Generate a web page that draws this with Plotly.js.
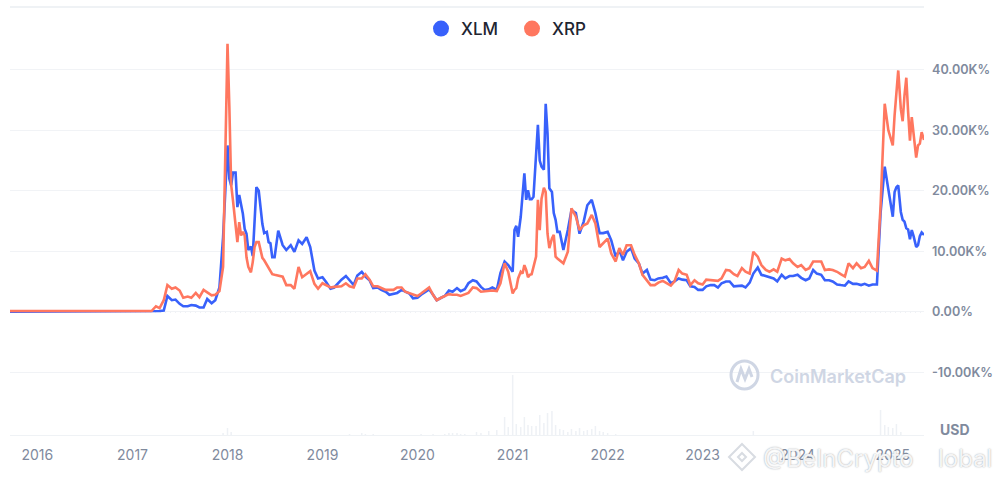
<!DOCTYPE html>
<html><head><meta charset="utf-8">
<script src="https://cdn.plot.ly/plotly-3.0.1.min.js"></script>
<style>html,body{margin:0;padding:0;background:#fff}#c{width:1002px;height:482px}</style>
</head><body><div id="c"></div>
<script>
// values in thousands of percent; half-monthly, weekly where the curve moves fast
const earlyDates = ['2015-09-18','2016-01-01','2016-07-01'];
const xlmEarly = [0,0,0];
const xrpEarly = [0.1,0.1,0.05];
const xlm2017 = [0.05,0,0,0,0,0,0.05,0.1,0.2,2.6,1.9,2,1.3,0.9,0.9,1.1,1,0.7,0.7,2.1,1.4,1.9,4,12.3];
const xrp2017 = [0.1,0.1,0.1,0.1,0.1,0.1,0.9,0.6,1.9,4.4,3.8,4,3.5,2.3,2.5,2.3,3.1,2.4,3.6,3.2,2.7,2.8,3.4,7.4];
const xlm2018a = [27.5,22,20.9,23,23,17.3,19.3,18,16.2,13.7,12.9,10.2,10.8,9.2,15.1,20.6,20,16.7,14.5,13,13.2,11.5,11.3,9];
const xrp2018a = [44.3,34,21,18.4,14,11.5,14.8,12.6,13.2,12.6,9,7.4,6.5,8.2,10.7,11.5,11.5,10,8.9,8.5,7.7,7.2,6.6,6.2];
const xlm2018b = [9,13.4,11,10.2,11,9.9,11.8,11.2,12.3,10.7,6.8,5.5];
const xrp2018b = [6.1,6,5.8,4.4,4.4,3.8,7.4,5.7,6.3,6.7,4.6,3.8];
const xlm2019 = [5.7,4.9,3.8,4,4.7,5.3,5.9,5.2,4.4,6,6.6,5.8,5.2,3.9,4,3.6,3.3,2.8,3,3.1,3.6,3.3,3,2.2];
const xrp2019 = [4.7,4.4,4,4.1,4.2,4.2,4.7,4.2,4,5.5,5.5,6.2,5.3,4.2,4.2,3.9,3.6,3.6,3.6,4,4,3.3,3.1,2.8];
const xlm2020 = [2.3,2.8,3.3,3.7,2.8,1.9,2.3,2.6,3.5,3.3,3.9,3.4,3.7,4.7,5.2,5,4.1,3.6,3.7,4,3.6,6.4,8.3,7.7];
const xrp2020 = [2.6,3,3.6,4,2.8,1.9,2.3,2.6,2.9,2.8,2.8,2.6,2.8,3.1,4,3.9,3.3,3.4,3.4,3.5,3.4,4.7,8,6.6];
const xlm2021a = [6.6,13.5,14.2,12.4,15.7,20.1,22.9,18.5,20.1,18.6,18.6,19,25,30.9,25,24,23.5,34.4,29.5,20.4,19.8,16.3,15.2,13.2];
const xrp2021a = [3,3.6,3.9,5.5,6.6,6.3,7.7,6.9,5.7,6.1,6.2,7.4,9.1,18.5,13.5,18.7,20.5,19.8,12.9,10.5,12.1,12.7,9.1,8.8];
const xlm2021b = [13.2,10.2,13.5,16.8,16.3,12.9,14.9,17.6,18.5,16.3,13,13];
const xrp2021b = [8.5,8,9.9,17.1,15.7,13.5,14.3,14.6,16,14.6,10.7,11.3];
const xlm2022 = [13.2,11.8,9.1,10.2,8.5,9.9,10.5,8.8,8,6.3,6.9,5.3,5.2,5.5,5.6,5.8,4.7,5,5.5,5.3,5.2,4.2,4.1,3.6];
const xrp2022 = [12.1,9.6,8.3,10.5,9.4,11,11,9.4,8,6.1,5.1,4.4,4.4,4.8,5.1,4.7,4.3,5,6.9,6.3,6.1,4.4,5.2,4.7];
const xlm2023 = [3.6,4.2,4.4,4.4,4,4.7,5,5,4.2,4.2,4.3,4,4.8,6.3,7.3,6.1,5.9,5.7,5.5,5,6.1,5.5,5.9,5.9];
const xrp2023 = [4.5,5.3,5.2,5.1,5.1,5.5,6.9,6.8,6.2,5.9,7.2,6.6,6.3,9.9,9.1,7.7,6.9,6.6,7,6.6,8.8,8.5,8.7,8];
const xlm2024 = [6.1,5.6,5.2,5.5,6.9,6.3,6.1,5.2,5.2,5,4.5,4.4,4.3,5,4.6,4.6,4.4,4.6,4.3,4.5,4.5,16.3,24,20.2];
const xrp2024 = [7.4,7.7,6.9,7.2,8.3,8.3,8.3,6.9,7,6.9,6.6,6.2,5.8,8,7.2,8,7.2,7.4,8.4,7.2,6.8,17.4,34.4,30];
const xlm2025 = [15.7,19.8,20.6,20.9,16.5,15.2,14.9,13.8,13.6,12,13.5,12.5,10.7,11,12.5,13.1,12.7];
const xrp2025 = [27.5,32.5,36.5,39.9,33.5,31.5,35.8,38.7,33,28.3,32.2,29,25.5,27.5,27.8,29.7,28.4];
const volDates = ['2017-12-15','2018-01-01','2018-01-15','2019-04-15','2019-06-01','2019-06-15','2019-07-15','2020-01-15','2020-03-01','2020-04-15','2020-05-01','2020-05-15','2020-06-01','2020-06-15','2020-07-01','2020-08-15','2020-09-01','2020-10-01','2020-11-01','2020-12-01','2020-12-15','2021-01-01','2021-01-15','2021-02-01','2021-02-15','2021-03-01','2021-03-15','2021-04-01','2021-04-15','2021-05-01','2021-05-15','2021-06-01','2021-06-15','2021-07-01','2021-07-15','2021-08-01','2021-08-15','2021-09-01','2021-09-15','2021-10-01','2021-10-15','2021-11-01','2021-11-15','2021-12-01','2021-12-15','2022-01-01','2022-02-01','2023-07-15','2024-11-15','2024-12-01','2024-12-15','2025-01-01','2025-01-15','2025-02-01'];
const volumes = [2,7,3,1,2,1,1,1,1,1,2,2,2,1,1,3,2,4,5,18,8,60,11,8,18,10,9,9,20,12,22,24,10,6,5,3,6,4,7,4,5,6,9,4,3,2,1,4,25,10,8,7,11,3];
const yearTicks = ['2016-01-01','2017-01-01','2018-01-01','2019-01-01','2020-01-01','2021-01-01','2022-01-01','2023-01-01','2024-01-01','2025-01-01'];
const yearLabels = ['2016','2017','2018','2019','2020','2021','2022','2023','2024','2025'];
const pctTicks = [-10,0,10,20,30,40];
const pctLabels = ['-10.00K%','0.00%','10.00K%','20.00K%','30.00K%','40.00K%'];

const mm=m=>String(m).padStart(2,'0');
function halves(y,a,b){const o=[];for(let m=a;m<=b;m++)o.push(y+'-'+mm(m)+'-01',y+'-'+mm(m)+'-15');return o;}
function weeks(y,a,b){const o=[];for(let m=a;m<=b;m++)for(const d of ['01','08','15','22'])o.push(y+'-'+mm(m)+'-'+d);return o;}
const dates=[...earlyDates,...halves(2017,1,12),...weeks(2018,1,6),...halves(2018,7,12),...halves(2019,1,12),...halves(2020,1,12),...weeks(2021,1,6),...halves(2021,7,12),...halves(2022,1,12),...halves(2023,1,12),...halves(2024,1,12),...weeks(2025,1,4),'2025-05-01'];
const xlm=[...xlmEarly,...xlm2017,...xlm2018a,...xlm2018b,...xlm2019,...xlm2020,...xlm2021a,...xlm2021b,...xlm2022,...xlm2023,...xlm2024,...xlm2025];
const xrp=[...xrpEarly,...xrp2017,...xrp2018a,...xrp2018b,...xrp2019,...xrp2020,...xrp2021a,...xrp2021b,...xrp2022,...xrp2023,...xrp2024,...xrp2025];

const BLUE='#3861fb',RED='#ff775f',GREY='#808a9d',GRID='#f1f3f6';
const L=10,R=924,T=7,B=435;
const px=x=>(x-L)/(R-L),py=y=>(B-y)/(B-T);
const traces=[
 {type:'bar',x:volDates,y:volumes,yaxis:'y2',marker:{color:'#eef1f5',line:{width:0}},width:5e8,showlegend:false,hoverinfo:'skip'},
 {type:'scatter',mode:'lines',x:dates,y:xlm,line:{color:BLUE,width:2.6},showlegend:false,name:'XLM'},
 {type:'scatter',mode:'lines',x:dates,y:xrp,line:{color:RED,width:2.6},showlegend:false,name:'XRP'},
 {type:'scatter',mode:'markers',x:[null],y:[null],name:'XLM',marker:{color:BLUE,size:18}},
 {type:'scatter',mode:'markers',x:[null],y:[null],name:'XRP',marker:{color:RED,size:18}}
];
const wm='#cfd6e4';
const layout={
 width:1002,height:482,margin:{l:L,r:1002-R,t:T,b:482-B},paper_bgcolor:'#fff',plot_bgcolor:'#fff',
 font:{family:'Inter, sans-serif',color:GREY},
 xaxis:{type:'date',range:['2015-09-18','2025-05-01'],tickvals:yearTicks,ticktext:yearLabels,showgrid:false,zeroline:false,showline:true,mirror:true,linecolor:'#eff2f5',linewidth:1,ticks:'',tickfont:{size:14,color:GREY},ticklabelstandoff:7},
 yaxis:{side:'right',range:[-20.4,50.4],tickvals:pctTicks,ticktext:pctLabels,showgrid:true,gridcolor:GRID,gridwidth:1,zeroline:false,showline:false,ticks:'',tickfont:{size:12.6,color:GREY,weight:600},ticklabelstandoff:7},
 yaxis2:{overlaying:'y',range:[0,428],visible:false,fixedrange:true},
 legend:{orientation:'h',x:px(421),xanchor:'left',y:py(29),yanchor:'middle',font:{size:17,color:'#222531',weight:500},itemwidth:30,entrywidth:46,entrywidthmode:'pixels',bgcolor:'rgba(0,0,0,0)',itemclick:false},
 shapes:[
  {type:'line',xref:'paper',x0:0,x1:1,yref:'y',y0:0,y1:0,line:{color:'#a6b0c3',width:1,dash:'1px,4px'},layer:'below'},
  {type:'line',xref:'paper',yref:'paper',x0:0,x1:1,y0:1,y1:1,line:{color:'#eff2f5',width:2}},
  {type:'circle',xref:'paper',yref:'paper',x0:px(731),x1:px(758),y0:py(389),y1:py(361),line:{color:wm,width:3}},
  {type:'path',xref:'paper',yref:'paper',path:`M ${px(737)} ${py(382)} L ${px(741)} ${py(369)} L ${px(745)} ${py(379)} L ${px(749)} ${py(369)} L ${px(752)} ${py(377)}`,line:{color:wm,width:3}},
  {type:'path',xref:'paper',yref:'paper',path:`M ${px(742)} ${py(444)} L ${px(755)} ${py(457)} L ${px(742)} ${py(470)} L ${px(729)} ${py(457)} Z`,line:{color:'#d8dce2',width:2},fillcolor:'rgba(255,255,255,0.8)'},
  {type:'path',xref:'paper',yref:'paper',path:`M ${px(742)} ${py(453)} L ${px(746)} ${py(457)} L ${px(742)} ${py(461)} L ${px(738)} ${py(457)} Z`,line:{color:'#d8dce2',width:2},fillcolor:'#fff'}
 ],
 annotations:[
  {xref:'paper',yref:'paper',x:px(768),y:py(376),xanchor:'left',yanchor:'middle',showarrow:false,text:'CoinMarketCap',font:{size:18,color:wm,weight:600}},
  {xref:'paper',yref:'paper',x:px(938),y:py(429),xanchor:'left',yanchor:'middle',showarrow:false,text:'USD',font:{size:14,color:GREY,weight:700}},
  {xref:'paper',yref:'paper',x:px(761),y:py(458),xanchor:'left',yanchor:'middle',showarrow:false,text:'@BeInCrypto',font:{size:24,color:'rgba(255,255,255,0.9)',shadow:'0 0 1.5px #8a8f98'}},
  {xref:'paper',yref:'paper',x:px(936),y:py(458),xanchor:'left',yanchor:'middle',showarrow:false,text:'lobal',font:{size:24,color:'rgba(255,255,255,0.9)',shadow:'0 0 1.5px #8a8f98'}}
 ]
};
Plotly.newPlot('c',traces,layout,{staticPlot:true,displayModeBar:false});
</script></body></html>
